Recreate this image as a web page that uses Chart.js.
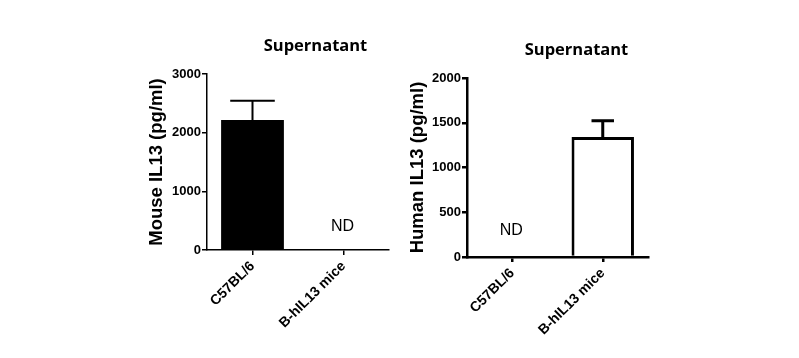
<!DOCTYPE html>
<html><head><meta charset="utf-8">
<script src="https://cdn.jsdelivr.net/npm/chart.js@4/dist/chart.umd.min.js"></script>
<style>
html,body{margin:0;padding:0;background:#fff;width:799px;height:358px;overflow:hidden}
.p{position:absolute;top:0}
</style></head><body>
<div class="p" style="left:0"><canvas id="c1" width="400" height="358"></canvas></div>
<div class="p" style="left:400px"><canvas id="c2" width="399" height="358"></canvas></div>
<script>
const categories = ['C57BL/6', 'B-hIL13 mice'];
const mouseIL13 = [2216, null];      // ND for B-hIL13 mice
const mouseIL13Err = [330, null];
const humanIL13 = [null, 1341];      // ND for C57BL/6
const humanIL13Err = [null, 180];
const mouseTicks = [0, 1000, 2000, 3000];
const humanTicks = [0, 500, 1000, 1500, 2000];
const mouseND = [false, true];
const humanND = [true, false];
const panelTitle = 'Supernatant';
const mouseYLabel = 'Mouse IL13 (pg/ml)';
const humanYLabel = 'Human IL13 (pg/ml)';

const errorBars = {
  id: 'errorBars',
  afterDatasetsDraw(chart, args, opts) {
    const ctx = chart.ctx, y = chart.scales.y;
    const meta = chart.getDatasetMeta(0);
    const vals = chart.data.datasets[0].data;
    ctx.save();
    ctx.strokeStyle = '#000';
    ctx.lineWidth = opts.lineWidth;
    meta.data.forEach((bar, i) => {
      const e = opts.errors[i], v = vals[i];
      if (e == null || v == null) return;
      const top = y.getPixelForValue(v + e);
      const base = y.getPixelForValue(v);
      const half = bar.width * opts.capRatio / 2;
      ctx.beginPath();
      ctx.moveTo(bar.x, base); ctx.lineTo(bar.x, top);
      ctx.moveTo(bar.x - half, top); ctx.lineTo(bar.x + half, top);
      ctx.stroke();
    });
    ctx.restore();
  }
};
const ndLabels = {
  id: 'ndLabels',
  afterDatasetsDraw(chart, args, opts) {
    const ctx = chart.ctx, x = chart.scales.x, y = chart.scales.y;
    ctx.save();
    ctx.font = '16px "Liberation Sans", Arial, sans-serif';
    ctx.textAlign = 'center';
    ctx.textBaseline = 'middle';
    ctx.fillStyle = '#000';
    opts.flags.forEach((f, i) => {
      if (f) ctx.fillText('ND', x.getPixelForValue(i) - 1, y.getPixelForValue(opts.value));
    });
    ctx.restore();
  }
};
const headline = {
  id: 'headline',
  afterDraw(chart, args, opts) {
    const ctx = chart.ctx;
    ctx.save();
    ctx.font = 'bold 16.5px "Open Sans", sans-serif';
    ctx.textAlign = 'center';
    ctx.textBaseline = 'alphabetic';
    ctx.fillStyle = '#000';
    ctx.fillText(opts.text, opts.x, opts.y);
    ctx.restore();
  }
};

const yTickFont = {family: '"Liberation Sans", Arial, sans-serif', weight: 'bold', size: 13};
const xTickFont = {family: '"Liberation Sans", Arial, sans-serif', weight: 'bold', size: 14};
const titleFont = {family: '"Liberation Sans", Arial, sans-serif', weight: 'bold', size: 18.5};

function makeChart(id, cfg) {
  return new Chart(document.getElementById(id), {
    type: 'bar',
    data: {
      labels: categories,
      datasets: [{
        data: cfg.data,
        backgroundColor: cfg.fill,
        borderColor: '#000',
        borderWidth: cfg.barBorder,
        borderSkipped: 'start',
        barPercentage: 0.69,
        categoryPercentage: 1
      }]
    },
    options: {
      responsive: false,
      animation: false,
      devicePixelRatio: 1,
      layout: {padding: cfg.padding},
      plugins: {
        legend: {display: false},
        tooltip: {enabled: false},
        title: {display: false},
        errorBars: {errors: cfg.errors, lineWidth: cfg.errW, capRatio: cfg.capRatio},
        ndLabels: {flags: cfg.nd, value: cfg.ndValue},
        headline: {text: panelTitle, x: cfg.titleX, y: cfg.titleY}
      },
      scales: {
        x: {
          offset: true,
          afterFit: s => { s.height = cfg.xHeight; },
          border: {display: true, color: '#000', width: cfg.axisW},
          grid: {display: true, offset: false, drawOnChartArea: false, drawTicks: true, tickLength: 5, color: '#000', lineWidth: cfg.axisW},
          ticks: {color: '#000', font: xTickFont, maxRotation: 45, minRotation: 45, padding: 3, autoSkip: false}
        },
        y: {
          min: 0, max: cfg.ticks[cfg.ticks.length - 1],
          afterBuildTicks: s => { s.ticks = cfg.ticks.map(v => ({value: v})); },
          afterFit: s => { s.width = cfg.yWidth; },
          border: {display: true, color: '#000', width: cfg.axisW},
          grid: {display: true, drawOnChartArea: false, drawTicks: true, tickLength: 5, color: '#000', lineWidth: cfg.axisW},
          ticks: {color: '#000', font: yTickFont, padding: 1, callback: v => String(v)},
          title: {display: true, text: cfg.yLabel, color: '#000', font: titleFont, padding: {top: 0, bottom: 0}}
        }
      }
    },
    plugins: [errorBars, ndLabels, headline]
  });
}

makeChart('c1', {
  data: mouseIL13, errors: mouseIL13Err, ticks: mouseTicks, nd: mouseND, ndValue: 400,
  fill: '#000', barBorder: 0, errW: 2, capRatio: 0.71, axisW: 1.5,
  padding: {left: 146, right: 11, top: 74, bottom: 0}, yWidth: 61, xHeight: 108,
  yLabel: mouseYLabel, titleX: 315.5, titleY: 51
});
makeChart('c2', {
  data: humanIL13, errors: humanIL13Err, ticks: humanTicks, nd: humanND, ndValue: 300,
  fill: '#fff', barBorder: 3, errW: 3, capRatio: 0.36, axisW: 2.5,
  padding: {left: 7, right: 151, top: 78, bottom: 0}, yWidth: 60, xHeight: 101,
  yLabel: humanYLabel, titleX: 176.5, titleY: 55
});
</script>
</body></html>
